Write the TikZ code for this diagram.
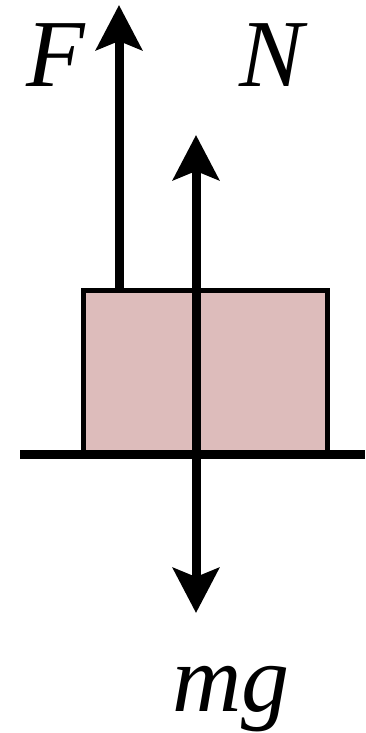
\documentclass[tikz,border=0pt]{standalone}
\usepackage{fontspec}
\setmainfont{Liberation Serif}
\usetikzlibrary{arrows.meta}
\definecolor{blockpink}{RGB}{221,188,187}
\begin{document}
\begin{tikzpicture}[x=1pt,y=-1pt,
  force/.style={line width=9pt,-{Stealth[length=45pt,width=46pt,inset=9pt]}},
  lbl/.style={inner sep=0pt,font=\fontsize{96}{100}\selectfont\itshape},
  block/.style={draw,line width=5pt,fill=blockpink,minimum width=244pt,minimum height=163pt,inner sep=0pt}]
\useasboundingbox (0,0) rectangle (365,733);
\node[block] (box) at (205,371.5) {};
\draw[line width=9pt] (20,454) -- (365,454);
\coordinate (fbase) at (119,290);
\coordinate (ftip) at (119,5);
\coordinate (contact) at (196,454);
\coordinate (ntip) at (196,135);
\coordinate (wtip) at (196,613);
\draw[force] (fbase) -- (ftip);
\draw[force] (contact) -- (ntip);
\draw[force] (contact) -- (wtip);
\node[lbl] (F) at (56,55) {F};
\node[lbl] (N) at (272,55) {N};
\node[lbl] (mg) at (231,699) {mg};
\end{tikzpicture}
\end{document}
